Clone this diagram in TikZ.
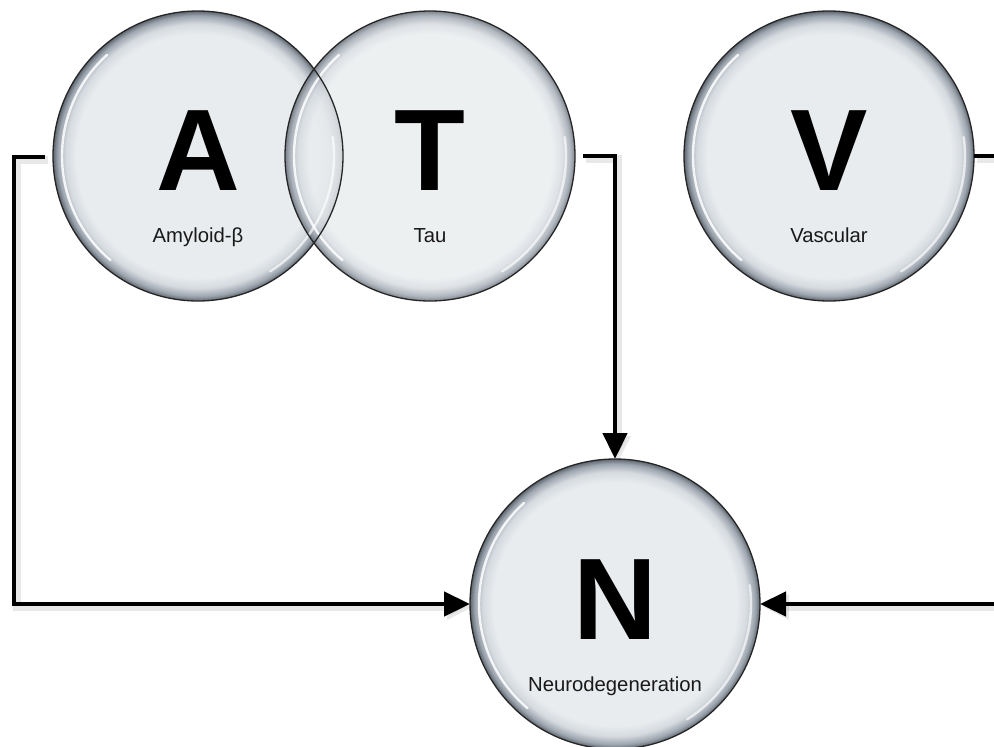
\documentclass[tikz,border=0pt]{standalone}
\usepackage{fontspec}
\setmainfont{Liberation Sans}
\usetikzlibrary{arrows.meta,calc}
\definecolor{bubfill}{HTML}{E9ECEE}
\definecolor{bubmid}{HTML}{D5DADF}
\definecolor{bubrim}{HTML}{9CA4AE}
\definecolor{bubdark}{HTML}{5E6670}
\pgfdeclareradialshading{bubble}{\pgfpoint{0bp}{0bp}}{%
  color(0bp)=(bubfill); color(21bp)=(bubfill); color(22.8bp)=(bubmid);
  color(24.2bp)=(bubrim); color(25bp)=(bubdark); color(50bp)=(bubdark)}
\begin{document}
\begin{tikzpicture}[x=1pt,y=-1pt,
  bubble/.style={circle, minimum size=290pt, inner sep=0pt, outer sep=0pt,
    shade, shading=bubble},
  rim/.style={draw=black!85, line width=1.3pt},
  gloss/.style={draw=white, opacity=0.85, line width=2.4pt, line cap=round},
  bigletter/.style={anchor=base, inner sep=0pt, font=\fontsize{116}{116}\selectfont\bfseries},
  lab/.style={anchor=base, inner sep=0pt, font=\fontsize{20.3}{22}\selectfont, text=black!90},
  conn/.style={line width=4.5pt, draw=black,
    preaction={draw=black, opacity=0.09, line width=8pt,
      transform canvas={shift={(3,3)}}}},
  arr/.style={conn, -{Triangle[length=26pt,width=24pt]}}
]
\useasboundingbox (0,0) rectangle (994,747);

% circles
\node[bubble] (A) at (198,156) {};
\node[bubble, fill opacity=0.8] (T) at (430,156) {};
\node[bubble] (V) at (829,156) {};
\node[bubble] (N) at (615,604) {};

% glossy highlights (inside the rim)
\foreach \cx/\cy in {198/156, 430/156, 829/156, 615/604}{
  \draw[gloss] plot[domain=130:228, samples=40, smooth] ({\cx+136*cos(\x)},{\cy+136*sin(\x)});
  \draw[gloss, opacity=0.65] plot[domain=-8:58, samples=40, smooth] ({\cx+136*cos(\x)},{\cy+136*sin(\x)});
}
% outlines
\foreach \c in {A,T,V,N}{
  \draw[rim] (\c.center) circle[radius=145pt];
}

% letters and labels
\node[bigletter] (Al) at ($(A.center)+(0,34)$) {A};
\node[lab] (Ab) at ($(A.center)+(0,86)$) {Amyloid-β};
\node[bigletter] (Tl) at ($(T.center)+(0,34)$) {T};
\node[lab] (Tb) at ($(T.center)+(0,86)$) {Tau};
\node[bigletter] (Vl) at ($(V.center)+(0,34)$) {V};
\node[lab] (Vb) at ($(V.center)+(0,86)$) {Vascular};
\node[bigletter] (Nl) at ($(N.center)+(0,35)$) {N};
\node[lab] (Nb) at ($(N.center)+(0,87)$) {Neurodegeneration};

% connectors
\coordinate (Astart) at ($(A.west)+(-8,1)$);
\coordinate (Lcorner) at (14,157);
\coordinate (Tstart) at ($(T.east)+(8,0)$);
\coordinate (Vend) at (994,156);
\coordinate (Rin) at (994,604);

\draw[arr] (Astart) -- (Lcorner) |- (N.west);
\draw[arr] (Tstart) -| (N.north);
\draw[conn] (V.east) -- (Vend);
\draw[arr] (Rin) -- (N.east);
\end{tikzpicture}
\end{document}
